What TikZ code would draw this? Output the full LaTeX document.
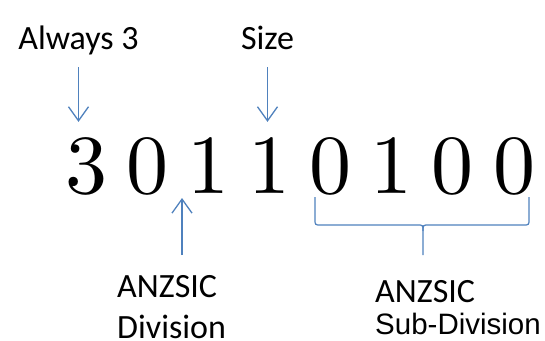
\documentclass[tikz,border=0pt]{standalone}
\usepackage{fontspec}
\newfontfamily\calibrifont{Carlito}
\newfontfamily\arialfont{Liberation Sans}
\newfontfamily\digitfont{lmroman10-regular}[Extension=.otf]
\definecolor{codeblue}{RGB}{79,129,189}
\usetikzlibrary{arrows.meta,calc}

\begin{document}
\begin{tikzpicture}[x=1pt,y=-1pt,
    lbl/.style={font=\calibrifont\fontsize{34}{41}\selectfont,inner sep=0pt,align=left},
    digit/.style={font=\digitfont\fontsize{84}{84}\selectfont,inner sep=0pt,anchor=base},
    arr/.style={codeblue,line width=1.3pt,-{Straight Barb[length=14pt,width=20pt]}},
    brace/.style={codeblue,line width=1.2pt}]
  \useasboundingbox (0,0) rectangle (545,340);
  % the eight digits of the code
  \foreach \d [count=\i] in {3,0,1,1,0,1,0,0}
    \node[digit] (d\i) at (25.25+61.1*\i,193) {\d};
  % labels above
  \node[lbl,anchor=base,text depth=0pt] (always) at (78.5,49.5) {Always 3};
  \node[lbl,anchor=base,text depth=0pt] (size) at (267.5,49.5) {Size};
  \draw[arr,shorten <=17.5pt,shorten >=15pt] (always.south) -- (always.south |- d1.north);
  \draw[arr,shorten <=17.5pt,shorten >=15pt] (size.south) -- (size.south |- d4.north);
  % labels below
  \node[lbl,anchor=north west] (div) at (117,275) {ANZSIC\\Division};
  \node[lbl,anchor=north west,font=\calibrifont\fontsize{34}{32}\selectfont] (sub) at (375,280)
    {ANZSIC\\{\arialfont\fontsize{29.5}{32}\selectfont Sub-Division}};
  \coordinate (divtip) at (182,198);
  \draw[arr,shorten <=20pt] (div.north -| divtip) -- (divtip);
  % brace under the last four digits
  \coordinate (bl) at (315,197);
  \coordinate (br) at (529,197);
  \coordinate (bm) at (423,255);
  \draw[brace] (bl) -- (315,219) .. controls (315,225) .. (321,225) -- (417,225)
    .. controls (423,225) .. (423,231) -- (bm);
  \draw[brace] (br) -- (529,219) .. controls (529,225) .. (523,225) -- (429,225)
    .. controls (423,225) .. (423,231);
\end{tikzpicture}
\end{document}
